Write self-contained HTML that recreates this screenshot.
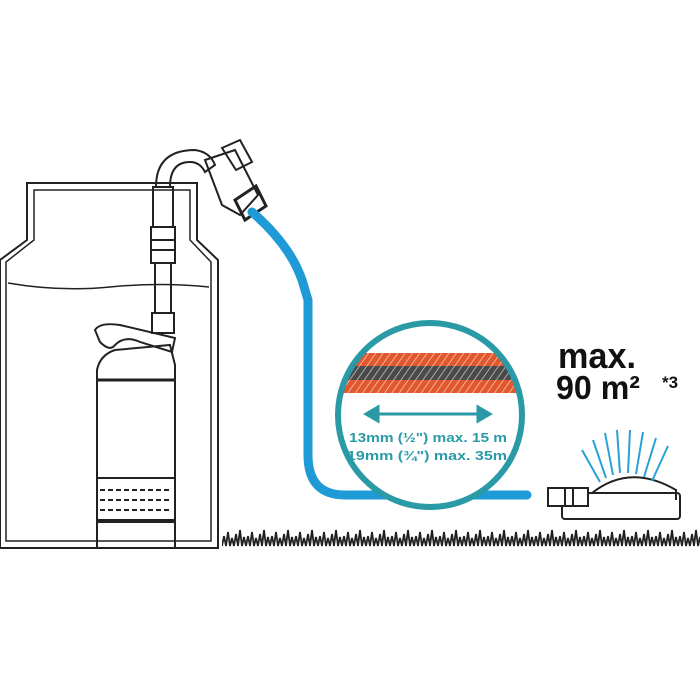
<!DOCTYPE html>
<html><head><style>body{margin:0;background:#fff}svg{display:block}</style></head><body>
<svg width="700" height="700" viewBox="0 0 700 700" xmlns="http://www.w3.org/2000/svg">
<defs>
<pattern id="hatch" width="6" height="6" patternUnits="userSpaceOnUse" patternTransform="rotate(35)">
<rect width="6" height="6" fill="none"/><line x1="0" y1="0" x2="0" y2="6" stroke="#fff" stroke-width="1.5" opacity="0.7"/>
</pattern>
<pattern id="grass" width="24" height="24" patternUnits="userSpaceOnUse" x="222" y="526">
<path d="M0,20 l2,-10 l2,10 l2,-14 l2,14 l2,-8 l2,8 l2,-12 l2,12 l2,-16 l2,16 l2,-9 l2,9" fill="none" stroke="#222" stroke-width="1.8"/>
</pattern>
<clipPath id="cc"><circle cx="430" cy="415" r="92"/></clipPath>
</defs>
<rect x="222" y="526" width="478" height="24" fill="url(#grass)"/>
<g fill="none" stroke="#222" stroke-width="2">
<path d="M27,240 L27,183 L197,183 L197,240 L218,260 L218,548 L0,548 L0,260 Z"/>
<path d="M34,240 L34,190 L190,190 L190,240 L211,262 L211,541 L6,541 L6,262 Z" stroke-width="1.5"/>
<path d="M8,283 Q60,292 110,287 T209,287" stroke-width="1.5"/>
<rect x="153" y="187" width="20" height="40"/>
<rect x="151" y="227" width="24" height="36"/>
<line x1="151" y1="240" x2="175" y2="240"/><line x1="151" y1="250" x2="175" y2="250"/>
<rect x="155" y="263" width="16" height="50"/>
<rect x="152" y="313" width="22" height="20"/>
<path d="M156,187 Q156,150 195,150 Q210,152 215,165 L205,172 Q200,162 190,162 Q170,162 170,187"/>
<path d="M205,160 L235,150 L258,195 L240,215 L222,205 Z"/>
<path d="M222,148 L240,140 L252,162 L236,170 Z"/>
<path d="M235,200 L256,186 L266,206 L245,220 Z" stroke-width="3"/>
<path d="M95,330 Q100,322 120,325 L175,338 L172,352 L140,342 Q125,335 115,345 Q110,352 100,342 Z"/>
<path d="M170,345 L175,365 L175,548 L97,548 L97,370 Q100,355 115,350 Z"/>
<line x1="97" y1="380" x2="175" y2="380" stroke-width="3"/>
<rect x="97" y="478" width="78" height="42"/>
<path d="M100,490 h72 M100,500 h72 M100,510 h72" stroke-dasharray="5 3"/>
<line x1="97" y1="522" x2="175" y2="522"/>
<rect x="562" y="493" width="118" height="26" rx="3"/>
<path d="M592,493 Q630,463 676,490 L676,500"/>
<rect x="548" y="488" width="40" height="18" fill="#fff"/>
<line x1="565" y1="488" x2="565" y2="506"/><line x1="573" y1="488" x2="573" y2="506"/>
</g>
<g stroke="#2aa0d8" stroke-width="2">
<line x1="600" y1="482" x2="582" y2="450"/><line x1="606" y1="478" x2="593" y2="440"/><line x1="613" y1="475" x2="605" y2="433"/><line x1="620" y1="473" x2="617" y2="430"/><line x1="628" y1="473" x2="630" y2="430"/><line x1="636" y1="474" x2="643" y2="432"/><line x1="644" y1="477" x2="656" y2="438"/><line x1="652" y1="481" x2="668" y2="446"/>
</g>
<path d="M252,212 Q290,245 302,280 L308,300 L308,455 Q308,495 345,495 L527,495" fill="none" stroke="#1e9ad6" stroke-width="9" stroke-linecap="round"/>
<circle cx="430" cy="415" r="92" fill="#fff"/>
<g clip-path="url(#cc)">
<rect x="330" y="353" width="200" height="13" fill="#e2572b"/>
<rect x="330" y="366" width="200" height="14" fill="#4a4a4a"/>
<rect x="330" y="380" width="200" height="13" fill="#e2572b"/>
<rect x="330" y="353" width="200" height="40" fill="url(#hatch)"/>
</g>
<circle cx="430" cy="415" r="92" fill="none" stroke="#2a9aa6" stroke-width="6"/>
<g stroke="#2a9aa6" stroke-width="3" fill="#2a9aa6">
<line x1="372" y1="414" x2="484" y2="414"/>
<path d="M366,414 l12,-7 v14 z"/><path d="M490,414 l-12,-7 v14 z"/>
</g>
<g font-family="Liberation Sans, sans-serif" font-weight="bold" fill="#2a9aa6" font-size="13" text-anchor="middle">
<text x="428" y="442" textLength="158" lengthAdjust="spacingAndGlyphs">13mm (½") max. 15 m</text>
<text x="427" y="460" textLength="160" lengthAdjust="spacingAndGlyphs">19mm (¾") max. 35m</text>
</g>
<g font-family="Liberation Sans, sans-serif" font-weight="bold" fill="#111">
<text x="558" y="368" font-size="36" textLength="78" lengthAdjust="spacingAndGlyphs">max.</text>
<text x="556" y="399" font-size="33" textLength="84" lengthAdjust="spacingAndGlyphs">90 m²</text>
<text x="662" y="388" font-size="17">*3</text>
</g>
</svg>
</body></html>
